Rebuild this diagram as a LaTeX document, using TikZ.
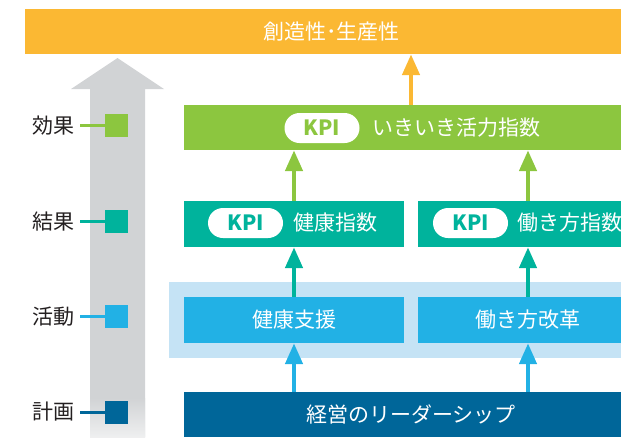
\documentclass[tikz,border=0pt]{standalone}
\usepackage{fontspec}
\setmainfont{Noto Sans CJK JP}
\usetikzlibrary{arrows.meta}
\definecolor{cOrange}{HTML}{FBB833}
\definecolor{cGreen}{HTML}{8CC63F}
\definecolor{cTeal}{HTML}{00B39C}
\definecolor{cBlue}{HTML}{22B1E5}
\definecolor{cBand}{HTML}{C5E3F5}
\definecolor{cDark}{HTML}{006699}
\definecolor{cGray}{HTML}{D1D3D5}
\definecolor{cText}{HTML}{231F20}
\tikzset{
  bar/.style={rectangle, inner sep=0pt, text=white, font=\fontsize{21}{21}\selectfont},
  pill/.style={rectangle, rounded corners=15pt, fill=white, minimum width=75pt, minimum height=30pt, inner sep=0pt, font=\bfseries\fontsize{21}{21}\selectfont},
  boxtext/.style={inner sep=0pt, anchor=west, text=white, font=\fontsize{21}{21}\selectfont},
  arr/.style={line width=4.5pt, -{Triangle[width=17pt,length=21pt]}},
  lbl/.style={inner sep=0pt, text=cText, font=\fontsize{21}{21}\selectfont},
  sq/.style={rectangle, inner sep=0pt, minimum size=23pt},
  lline/.style={line width=2.5pt}
}
\begin{document}
\begin{tikzpicture}[x=1pt,y=-1pt]
\useasboundingbox (0,0) rectangle (621,437);
\clip (0,0) rectangle (621,437);
% gray arrow
\fill[cGray] (90,437) -- (90,89) -- (71,89) -- (117.5,58) -- (164,89) -- (145,89) -- (145,437) -- cycle;
\shade[top color=cGray, bottom color=cGray!35!white] (90,398) rectangle (145,437.5);
% boxes
\node[bar, fill=cOrange, minimum width=613pt, minimum height=45pt] (top) at (331.5,31.5) {創造性･生産性};
\node[bar, fill=cGreen, minimum width=454pt, minimum height=45pt] (green) at (411,127.5) {};
\node[bar, fill=cBand, minimum width=484pt, minimum height=76pt] (band) at (411,320) {};
\node[bar, fill=cTeal, minimum width=220pt, minimum height=46pt] (tealL) at (294,224) {};
\node[bar, fill=cTeal, minimum width=220pt, minimum height=46pt] (tealR) at (528,224) {};
\node[bar, fill=cBlue, minimum width=220pt, minimum height=46pt] (blueL) at (294,320) {健康支援};
\node[bar, fill=cBlue, minimum width=220pt, minimum height=46pt] (blueR) at (528,320) {働き方改革};
\node[bar, fill=cDark, minimum width=454pt, minimum height=45pt] (dark) at (411,414.5) {経営のリーダーシップ};
% KPI pills and texts
\node[pill, text=cGreen] (kpiG) at (322,128) {KPI};
\node[boxtext] (tG) at (372,128) {いきいき活力指数};
\node[pill, text=cTeal] (kpiL) at (245.5,223) {KPI};
\node[boxtext] (tL) at (293,223) {健康指数};
\node[pill, text=cTeal] (kpiR) at (470.5,223) {KPI};
\node[boxtext] (tR) at (517,223) {働き方指数};
% arrows
\draw[arr, cOrange] (green.north) -- (green.north |- top.south);
\draw[arr, cGreen] (tealL.north) -- (tealL.north |- green.south);
\draw[arr, cGreen] (tealR.north) -- (tealR.north |- green.south);
\draw[arr, cTeal] (blueL.north) -- (tealL.south);
\draw[arr, cTeal] (blueR.north) -- (tealR.south);
\draw[arr, cBlue] (blueL.south |- dark.north) -- (blueL.south);
\draw[arr, cBlue] (blueR.south |- dark.north) -- (blueR.south);
% legend
\node[sq, fill=cGreen] (s1) at (116.5,125.5) {};
\node[sq, fill=cTeal] (s2) at (116.5,221.5) {};
\node[sq, fill=cBlue] (s3) at (116.5,316.5) {};
\node[sq, fill=cDark] (s4) at (116.5,412.5) {};
\node[lbl] (l1) at (53,126) {効果};
\node[lbl] (l2) at (53,222) {結果};
\node[lbl] (l3) at (53,317) {活動};
\node[lbl] (l4) at (53,412) {計画};
\coordinate (e1) at (80,125.5);
\coordinate (e2) at (80,221.5);
\coordinate (e3) at (80,316.5);
\coordinate (e4) at (80,412.5);
\draw[lline, cGreen] (e1) -- (s1.west);
\draw[lline, cTeal] (e2) -- (s2.west);
\draw[lline, cBlue] (e3) -- (s3.west);
\draw[lline, cDark] (e4) -- (s4.west);
\end{tikzpicture}
\end{document}
